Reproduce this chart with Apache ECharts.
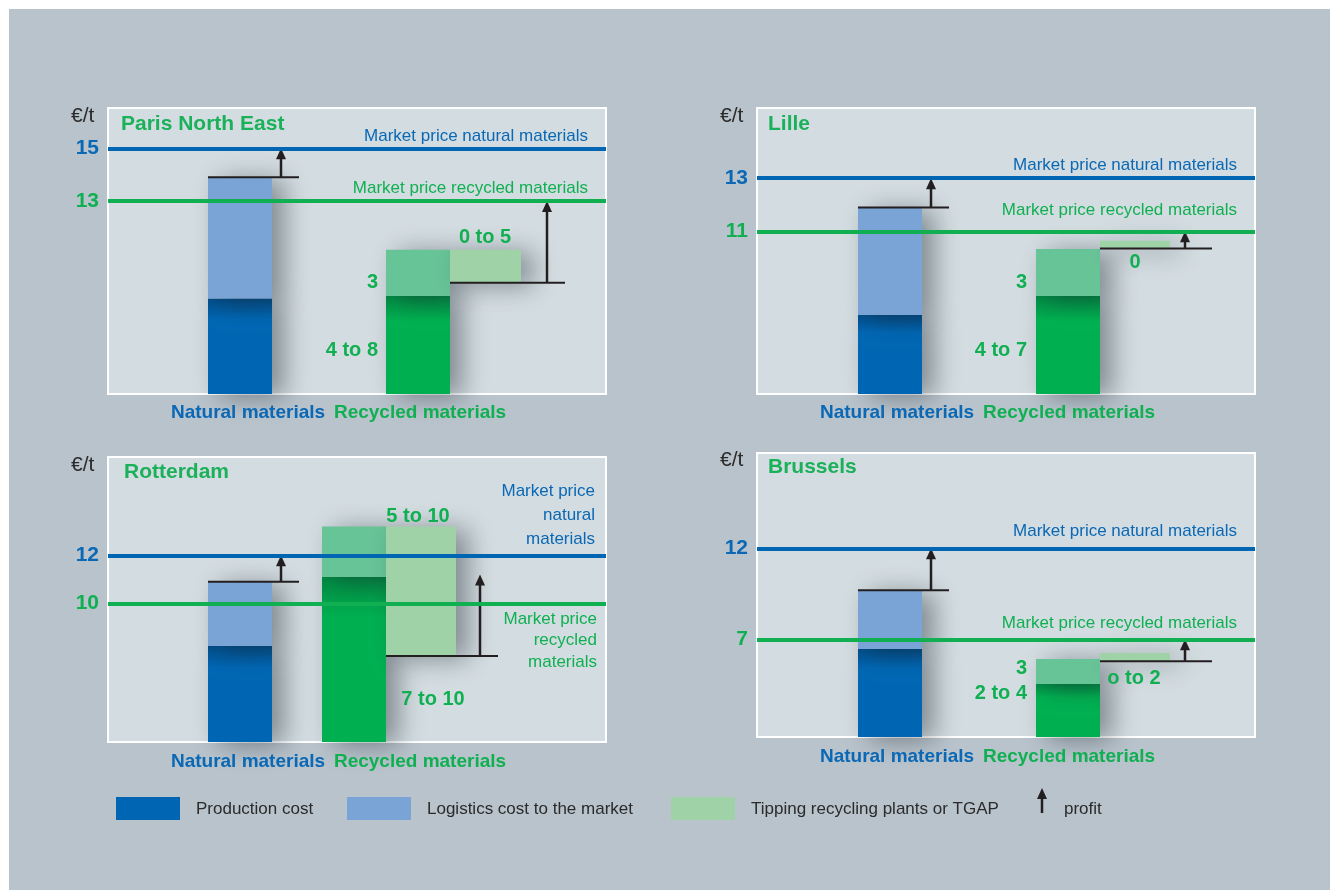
<!DOCTYPE html>
<html><head><meta charset="utf-8">
<script src="https://cdn.jsdelivr.net/npm/echarts@6/dist/echarts.min.js"></script>
<style>html,body{margin:0;padding:0;background:#fff}#c{width:1330px;height:890px}</style>
</head><body><div id="c"></div>
<script>
// ---------------- DATA (€/t; bars are schematic) ----------------
const regions = ['Paris North East', 'Lille', 'Rotterdam', 'Brussels'];
const priceNatural = [15, 13, 12, 12];
const priceRecycled = [13, 11, 10, 7];
const naturalProductionTop = [9.3, 7.84, 8.22, 6.47];
const naturalTotalCost = [13.9, 11.9, 10.9, 9.7];
const recycledProductionTop = [9.4, 8.56, 11.1, 4.54];
const recycledTotalCost = [11.15, 10.33, 13.2, 5.92];
const tippingLow = [9.9, 10.35, 7.8, 5.8];
const tippingHigh = [11.15, 10.64, 13.2, 6.25];
const recycledProfitTop = [13, 11, 11.2, 7];
const axisMin = [5.68, 4.86, 4.22, 1.63];
const axisMax = [16.53, 15.65, 16.1, 17.24];
const productionLabels = ['4 to 8', '4 to 7', '7 to 10', '2 to 4'];
const logisticsLabels = ['3', '3', '', '3'];
const tippingLabels = ['0 to 5', '0', '5 to 10', 'o to 2'];
const categories = ['Natural materials', 'Recycled materials'];
const unitLabel = '€/t';
const marketNaturalLabel = 'Market price natural materials';
const marketRecycledLabel = 'Market price recycled materials';
const legendLabels = ['Production cost', 'Logistics cost to the market', 'Tipping recycling plants or TGAP', 'profit'];

// ---------------- STYLE / LAYOUT ----------------
const C = {
  bg: '#b8c3cb', panel: '#d3dce0',
  prod: '#0066b3', logi: '#7ba4d6', recProd: '#00b050', recLogi: '#67c497', tip: '#9fd3a7',
  blue: '#0a68b5', green: '#10b052', title: '#1bb15a', ink: '#231f20', text: '#2b2b2b'
};
const FF = "'Liberation Sans', Arial, sans-serif";

const layouts = [
  { grid: {left:108, top:108, width:498, height:286}, nat:[100,164], rec:[278,342], tip:[342,413],
    natLine:[100,191], natArrow:173, recLine:[342,457], recArrow:439,
    unit:[71,116], title:[121,124],
    mNat:{x:588, y:136}, mRec:{x:588, y:188}, wrap:false,
    tipLbl:[485,237], logLbl:[378,282], prodLbl:[378,350], prodAlign:'right',
    cats:[[248,413],[420,413]] },
  { grid: {left:757, top:108, width:498, height:286}, nat:[101,165], rec:[279,343], tip:[343,413],
    natLine:[101,192], natArrow:174, recLine:[343,455], recArrow:428,
    unit:[720,116], title:[768,124],
    mNat:{x:1237, y:165}, mRec:{x:1237, y:210}, wrap:false,
    tipLbl:[1135,262], logLbl:[1027,282], prodLbl:[1027,350], prodAlign:'right',
    cats:[[897,413],[1069,413]] },
  { grid: {left:108, top:457, width:498, height:285}, nat:[100,164], rec:[214,278], tip:[278,348],
    natLine:[100,191], natArrow:173, recLine:[278,390], recArrow:372,
    unit:[71,465], title:[124,472],
    mNat:{x:595, y:491}, mRec:{x:597, y:619}, wrap:true,
    tipLbl:[418,516], logLbl:[0,0], prodLbl:[433,699], prodAlign:'center',
    cats:[[248,762],[420,762]] },
  { grid: {left:757, top:453, width:498, height:284}, nat:[101,165], rec:[279,343], tip:[343,413],
    natLine:[101,192], natArrow:174, recLine:[343,455], recArrow:428,
    unit:[720,460], title:[768,467],
    mNat:{x:1237, y:531}, mRec:{x:1237, y:623}, wrap:false,
    tipLbl:[1134,678], logLbl:[1027,668], prodLbl:[1027,693], prodAlign:'right',
    cats:[[897,757],[1069,757]] }
];

// kinds: 0 nat production, 1 nat logistics, 2 rec production, 3 rec logistics, 4 tipping, 5 profit line, 6 arrow
const FILLS = [C.prod, C.logi, C.recProd, C.recLogi, C.tip];
function renderItem(params, api) {
  const k = api.value(4);
  const a = api.coord([api.value(0), api.value(2)]);
  const b = api.coord([api.value(1), api.value(3)]);
  if (k <= 4) {
    let fill = FILLS[k];
    if (k === 0) fill = new echarts.graphic.LinearGradient(0,0,0,1,[{offset:0,color:'#004d8a'},{offset:0.22,color:'#0066b3'},{offset:1,color:'#0066b3'}]);
    if (k === 2) fill = new echarts.graphic.LinearGradient(0,0,0,1,[{offset:0,color:'#008a42'},{offset:0.25,color:'#00b050'},{offset:1,color:'#00b050'}]);
    return { type:'rect', shape:{x:a[0], y:b[1], width:b[0]-a[0], height:a[1]-b[1]},
      style:{fill, shadowBlur:26, shadowOffsetX:12, shadowOffsetY:3, shadowColor:'rgba(25,35,45,0.45)'} };
  }
  if (k === 5) {
    return { type:'line', shape:{x1:a[0], y1:a[1], x2:b[0], y2:a[1]}, style:{stroke:C.ink, lineWidth:2} };
  }
  const x = a[0], yFrom = a[1], yTo = b[1];
  return { type:'group', children:[
    { type:'line', shape:{x1:x, y1:yFrom, x2:x, y2:yTo+9}, style:{stroke:C.ink, lineWidth:2.5} },
    { type:'polygon', shape:{points:[[x,yTo],[x-5,yTo+11],[x+5,yTo+11]]}, style:{fill:C.ink} }
  ]};
}

const grids = [], xAxes = [], yAxes = [], series = [], graphics = [];
graphics.push({type:'rect', z:-10, shape:{x:9, y:9, width:1321, height:881}, style:{fill:C.bg}});

function txt(t, x, y, fill, font, align, extra) {
  graphics.push({ type:'text', z:100, style: Object.assign({ text:t, x, y, fill, font,
    textAlign:align, align:align, textVerticalAlign:'middle', verticalAlign:'middle' }, extra || {}) });
}

regions.forEach((name, i) => {
  const L = layouts[i];
  grids.push(Object.assign({ show:true, backgroundColor:C.panel, borderColor:'#ffffff', borderWidth:2 }, L.grid));
  xAxes.push({ gridIndex:i, type:'value', min:0, max:L.grid.width, show:false });
  yAxes.push({ gridIndex:i, type:'value', min:axisMin[i], max:axisMax[i], show:false, splitLine:{show:false} });
  const lo = axisMin[i];
  const data = [
    [L.nat[0], L.nat[1], lo, naturalProductionTop[i], 0],
    [L.nat[0], L.nat[1], naturalProductionTop[i], naturalTotalCost[i], 1],
    [L.rec[0], L.rec[1], lo, recycledProductionTop[i], 2],
    [L.rec[0], L.rec[1], recycledProductionTop[i], recycledTotalCost[i], 3],
    [L.tip[0], L.tip[1], tippingLow[i], tippingHigh[i], 4],
    [L.natLine[0], L.natLine[1], naturalTotalCost[i], naturalTotalCost[i], 5],
    [L.recLine[0], L.recLine[1], tippingLow[i], tippingLow[i], 5],
    [L.natArrow, L.natArrow, naturalTotalCost[i], priceNatural[i], 6],
    [L.recArrow, L.recArrow, tippingLow[i], recycledProfitTop[i], 6]
  ];
  series.push({
    type:'custom', name, xAxisIndex:i, yAxisIndex:i, coordinateSystem:'cartesian2d',
    clip:false, silent:true, renderItem, data, z:2,
    markLine: { silent:true, symbol:'none', animation:false, z:3,
      data: [
        { yAxis: priceNatural[i], lineStyle:{color:C.prod, width:4, type:'solid'},
          label:{ show:true, position:'start', distance:9, formatter: String(priceNatural[i]),
            color:C.blue, fontSize:21, fontWeight:'bold', fontFamily:FF } },
        { yAxis: priceRecycled[i], lineStyle:{color:C.green, width:4, type:'solid'},
          label:{ show:true, position:'start', distance:9, formatter: String(priceRecycled[i]),
            color:C.green, fontSize:21, fontWeight:'bold', fontFamily:FF } }
      ] }
  });

  txt(unitLabel, L.unit[0], L.unit[1], C.text, `21px ${FF}`, 'left');
  txt(name, L.title[0], L.title[1], C.title, `bold 21px ${FF}`, 'left');
  if (L.wrap) {
    txt(marketNaturalLabel.replace(' natural ', '\nnatural\n'), L.mNat.x, L.mNat.y + 24, C.blue, `17px ${FF}`, 'right', {lineHeight:24});
    txt(marketRecycledLabel.replace(' recycled ', '\nrecycled\n'), L.mRec.x, L.mRec.y + 21.5, C.green, `17px ${FF}`, 'right', {lineHeight:21.5});
  } else {
    txt(marketNaturalLabel, L.mNat.x, L.mNat.y, C.blue, `17px ${FF}`, 'right');
    txt(marketRecycledLabel, L.mRec.x, L.mRec.y, C.green, `17px ${FF}`, 'right');
  }
  txt(tippingLabels[i], L.tipLbl[0], L.tipLbl[1], C.green, `bold 20px ${FF}`, 'center');
  if (logisticsLabels[i]) txt(logisticsLabels[i], L.logLbl[0], L.logLbl[1], C.green, `bold 20px ${FF}`, 'right');
  txt(productionLabels[i], L.prodLbl[0], L.prodLbl[1], C.green, `bold 20px ${FF}`, L.prodAlign);
  txt(categories[0], L.cats[0][0], L.cats[0][1], C.blue, `bold 19px ${FF}`, 'center');
  txt(categories[1], L.cats[1][0], L.cats[1][1], C.green, `bold 19px ${FF}`, 'center');
});

// legend
const legendSwatches = [[116, C.prod], [347, C.logi], [671, C.tip]];
const legendTextX = [196, 427, 751, 1064];
legendSwatches.forEach(([x, col]) => graphics.push({type:'rect', z:100, shape:{x, y:797, width:64, height:23}, style:{fill:col}}));
legendLabels.forEach((t, j) => txt(t, legendTextX[j], 809, C.text, `17px ${FF}`, 'left'));
graphics.push({type:'line', z:100, shape:{x1:1042, y1:813, x2:1042, y2:797}, style:{stroke:C.ink, lineWidth:2.5}});
graphics.push({type:'polygon', z:100, shape:{points:[[1042,788],[1037,799],[1047,799]]}, style:{fill:C.ink}});

const chart = echarts.init(document.getElementById('c'), null, {renderer:'canvas'});
chart.setOption({
  backgroundColor:'#ffffff', animation:false,
  grid: grids, xAxis: xAxes, yAxis: yAxes, series, graphic: graphics
});
</script></body></html>
